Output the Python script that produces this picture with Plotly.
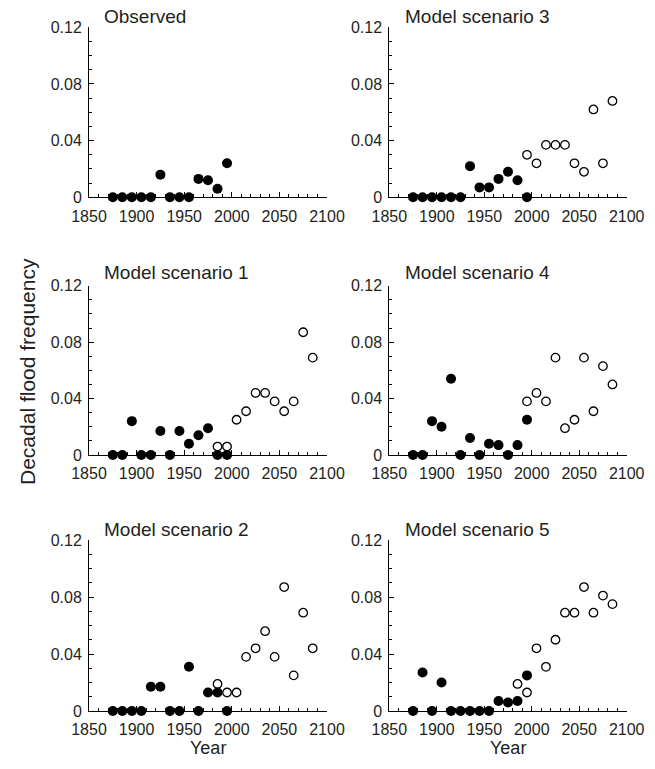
import plotly.graph_objects as go

# ---------------- data ----------------
hist_years = [1875, 1885, 1895, 1905, 1915, 1925, 1935, 1945, 1955, 1965, 1975, 1985, 1995]
proj_years_short = [1995, 2005, 2015, 2025, 2035, 2045, 2055, 2065, 2075, 2085]
proj_years_long = [1985, 1995, 2005, 2015, 2025, 2035, 2045, 2055, 2065, 2075, 2085]

observed = [0, 0, 0, 0, 0, 0.016, 0, 0, 0, 0.013, 0.012, 0.006, 0.024]

s1_hist = [0, 0, 0.024, 0, 0, 0.017, 0, 0.017, 0.008, 0.014, 0.019, 0, 0]
s1_proj = [0.006, 0.006, 0.025, 0.031, 0.044, 0.044, 0.038, 0.031, 0.038, 0.087, 0.069]

s2_hist = [0, 0, 0, 0, 0.017, 0.017, 0, 0, 0.031, 0, 0.013, 0.013, 0]
s2_proj = [0.019, 0.013, 0.013, 0.038, 0.044, 0.056, 0.038, 0.087, 0.025, 0.069, 0.044]

s3_hist = [0, 0, 0, 0, 0, 0, 0.022, 0.007, 0.007, 0.013, 0.018, 0.012, 0]
s3_proj = [0.030, 0.024, 0.037, 0.037, 0.037, 0.024, 0.018, 0.062, 0.024, 0.068]

s4_hist = [0, 0, 0.024, 0.020, 0.054, 0, 0.012, 0, 0.008, 0.007, 0, 0.007, 0.025]
s4_proj = [0.038, 0.044, 0.038, 0.069, 0.019, 0.025, 0.069, 0.031, 0.063, 0.050]

s5_hist = [0, 0.027, 0, 0.020, 0, 0, 0, 0, 0, 0.007, 0.006, 0.007, 0.025]
s5_proj = [0.019, 0.013, 0.044, 0.031, 0.050, 0.069, 0.069, 0.087, 0.069, 0.081, 0.075]

panel_titles = ["Observed", "Model scenario 3", "Model scenario 1",
                "Model scenario 4", "Model scenario 2", "Model scenario 5"]
x_ticks = [1850, 1900, 1950, 2000, 2050, 2100]
y_ticks = [0, 0.04, 0.08, 0.12]
y_tick_text = ["0", "0.04", "0.08", "0.12"]

# panel: (title, hist values, projection years, projection values, row, col)
panels = [
    (panel_titles[0], observed, None, None, 0, 0),
    (panel_titles[1], s3_hist, proj_years_short, s3_proj, 0, 1),
    (panel_titles[2], s1_hist, proj_years_long, s1_proj, 1, 0),
    (panel_titles[3], s4_hist, proj_years_short, s4_proj, 1, 1),
    (panel_titles[4], s2_hist, proj_years_long, s2_proj, 2, 0),
    (panel_titles[5], s5_hist, proj_years_long, s5_proj, 2, 1),
]

# ---------------- layout geometry (pixels) ----------------
W, H = 655, 769
col_px = [(89, 327), (389.3, 626.7)]
row_px = [(27.3, 197.3), (285.7, 455), (540, 711)]  # (top, bottom)
title_y_px = [17, 272.5, 529]
title_x_px = [102, 403]

FONT = "Liberation Sans, Arial, sans-serif"
TXT = "#231f20"

fig = go.Figure()
layout = dict(
    width=W, height=H,
    margin=dict(l=0, r=0, t=0, b=0, autoexpand=False),
    paper_bgcolor="white", plot_bgcolor="white",
    showlegend=False, hovermode=False,
    font=dict(family=FONT, size=16, color=TXT),
)
annotations = []

for i, (title, hv, py, pv, r, c) in enumerate(panels):
    idx = "" if i == 0 else str(i + 1)
    xa, ya = "x" + idx, "y" + idx
    if py is not None:
        fig.add_trace(go.Scatter(
            x=py, y=pv, mode="markers", xaxis=xa, yaxis=ya, cliponaxis=False,
            marker=dict(symbol="circle", size=8.5, color="white",
                        line=dict(color="black", width=1.3))))
    fig.add_trace(go.Scatter(
        x=hist_years, y=hv, mode="markers", xaxis=xa, yaxis=ya, cliponaxis=False,
        marker=dict(symbol="circle", size=10, color="black",
                    line=dict(color="black", width=0))))

    x0, x1 = col_px[c]
    t, b = row_px[r]
    layout["xaxis" + idx] = dict(
        domain=[x0 / W, x1 / W], range=[1850, 2100], anchor=ya,
        automargin=False,
        showline=True, linecolor="black", linewidth=1, mirror=False,
        showgrid=False, zeroline=False,
        tickmode="array", tickvals=x_ticks, ticktext=[str(v) for v in x_ticks],
        ticks="inside", ticklen=5, tickwidth=1, tickcolor="black",
        minor=dict(dtick=10, tick0=1850, ticks="inside", ticklen=3,
                   tickwidth=1, tickcolor="black", showgrid=False),
        tickfont=dict(size=16, color=TXT, family=FONT),
        ticklabelstandoff=4,
        fixedrange=True,
    )
    layout["yaxis" + idx] = dict(
        domain=[1 - b / H, 1 - t / H], range=[0, 0.12], anchor=xa,
        automargin=False,
        showline=True, linecolor="black", linewidth=1, mirror=False,
        showgrid=False, zeroline=False,
        tickmode="array", tickvals=y_ticks, ticktext=y_tick_text,
        ticks="inside", ticklen=5, tickwidth=1, tickcolor="black",
        minor=dict(dtick=0.01, tick0=0, ticks="inside", ticklen=3,
                   tickwidth=1, tickcolor="black", showgrid=False),
        tickfont=dict(size=16, color=TXT, family=FONT),
        ticklabelstandoff=3,
        fixedrange=True,
    )
    annotations.append(dict(
        text=title, xref="paper", yref="paper",
        x=title_x_px[c] / W, y=1 - title_y_px[r] / H,
        xanchor="left", yanchor="middle", showarrow=False,
        font=dict(size=19, color=TXT, family=FONT)))

# shared axis labels
annotations.append(dict(
    text="Decadal flood frequency", xref="paper", yref="paper",
    x=27 / W, y=1 - 372 / H, xanchor="center", yanchor="middle",
    textangle=-90, showarrow=False, font=dict(size=21, color=TXT, family=FONT)))
for c in range(2):
    x0, x1 = col_px[c]
    annotations.append(dict(
        text="Year", xref="paper", yref="paper",
        x=((x0 + x1) / 2) / W, y=1 - 748 / H, xanchor="center", yanchor="middle",
        showarrow=False, font=dict(size=18, color=TXT, family=FONT)))

layout["annotations"] = annotations
fig.update_layout(**layout)
fig.write_html(
    "out.html",
    config={"displayModeBar": False, "staticPlot": True},
    post_script="document.body.style.margin='0';document.body.style.overflow='hidden';",
)
